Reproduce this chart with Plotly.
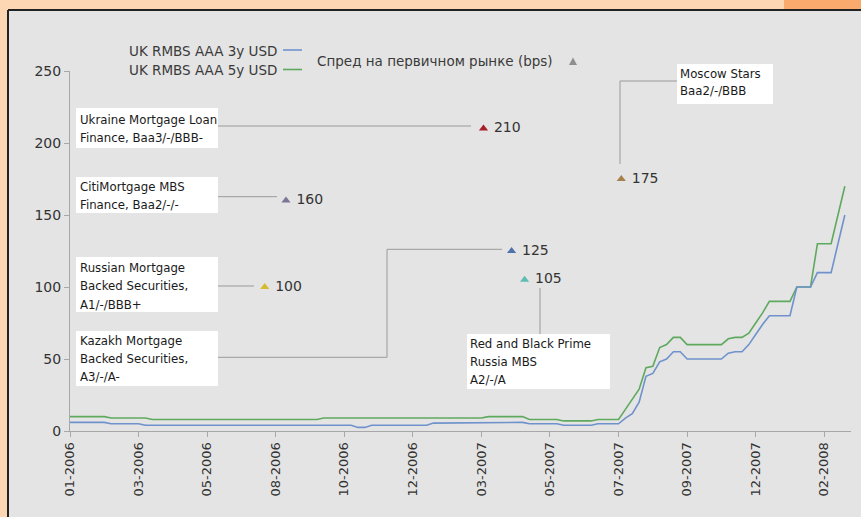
import plotly.graph_objects as go

# ---------------- data ----------------
tick_pos = [0, 10, 20, 30, 40, 50, 60, 70, 80, 90, 100, 110]
tick_labels = ["01-2006", "03-2006", "05-2006", "08-2006", "10-2006", "12-2006",
               "03-2007", "05-2007", "07-2007", "09-2007", "12-2007", "02-2008"]

# weekly values, UK RMBS AAA 3y USD (blue)
rmbs_3y = ([6] * 6 + [5] * 5 + [4] * 31 + [2.5] * 2 + [4] * 9 + [5.5] * 8 + [6] * 6 +
           [5] * 5 + [4] * 5 + [5] * 4 +
           [9, 12, 20, 38, 40, 48, 50, 55, 55, 50, 50, 50, 50, 50, 50, 54, 55, 55,
            60, 67, 74, 80, 80, 80, 80, 100, 100, 100, 110, 110, 110, 130, 150])
# weekly values, UK RMBS AAA 5y USD (green)
rmbs_5y = ([10] * 6 + [9] * 6 + [8] * 25 + [9] * 24 + [10] * 6 + [8] * 5 + [7] * 5 + [8] * 4 +
           [15, 22, 29, 44, 45, 58, 60, 65, 65, 60, 60, 60, 60, 60, 60, 64, 65, 65,
            68, 75, 82, 90, 90, 90, 90, 100, 100, 100, 130, 130, 130, 150, 170])
weeks = list(range(len(rmbs_3y)))

# primary market spreads (bps)
deal_names = ["Ukraine Mortgage Loan", "Moscow Stars", "CitiMortgage MBS",
              "Russian Mortgage Backed Securities", "Kazakh Mortgage Backed Securities",
              "Red and Black Prime Russia MBS"]
deal_week = [60.3, 80.4, 31.5, 28.4, 64.4, 66.3]
deal_bps = [210, 175, 160, 100, 125, 105]
deal_colors = ["#a61e2a", "#a8804a", "#7d7498", "#d6bb2c", "#4f72ad", "#5fbcb2"]

# callout texts
callouts = [
    (["Ukraine Mortgage Loan", "Finance, Baa3/-/BBB-"], 76, 108, 218, 148, 79, [120, 137.5]),
    (["CitiMortgage MBS", "Finance, Baa2/-/-"], 76, 177, 218, 213, 79, [186.7, 204.5]),
    (["Russian Mortgage", "Backed Securities,", "A1/-/BBB+"], 76, 257, 218, 312, 79, [267.5, 286, 304.5]),
    (["Kazakh Mortgage", "Backed Securities,", "A3/-/A-"], 76, 331, 218, 386, 79, [340.7, 358.7, 376.7]),
    (["Red and Black Prime", "Russia MBS", "A2/-/A"], 467, 334, 610, 389, 469, [344.3, 362, 380.3]),
    (["Moscow Stars", "Baa2/-/BBB"], 677, 64, 773, 104, 679, [73.7, 91.3]),
]

# ---------------- geometry helpers (pixel -> paper) ----------------
W, H = 861, 517
ML, MR, MT, MB = 70, 10, 71, 86
PW, PH = W - ML - MR, H - MT - MB


def fx(x):
    return (x - ML) / PW


def fy(y):
    return (H - MB - y) / PH


FONT = "DejaVu Sans"
fig = go.Figure()

fig.add_trace(go.Scatter(x=weeks, y=rmbs_5y, mode="lines", name="UK RMBS AAA 5y USD",
                         line=dict(color="#5fa95f", width=1.6)))
fig.add_trace(go.Scatter(x=weeks, y=rmbs_3y, mode="lines", name="UK RMBS AAA 3y USD",
                         line=dict(color="#6f92cc", width=1.6)))
fig.add_trace(go.Scatter(x=deal_week, y=deal_bps, mode="markers+text",
                         name="Спред на первичном рынке (bps)",
                         marker=dict(symbol="triangle-up", size=8, color=deal_colors),
                         text=[" " + str(v) for v in deal_bps], textposition="middle right",
                         textfont=dict(family=FONT, size=14, color="#333333"),
                         hovertext=deal_names))

shapes = []
# background panel
shapes.append(dict(type="rect", xref="paper", yref="paper", x0=fx(8), x1=fx(W + 2),
                   y0=fy(H + 2), y1=fy(10), fillcolor="#e4e4e4", line=dict(width=0), layer="below"))
shapes.append(dict(type="rect", xref="paper", yref="paper", x0=fx(784), x1=fx(W + 2),
                   y0=fy(9), y1=fy(-2), fillcolor="#f9aa6c", line=dict(width=0), layer="below"))
shapes.append(dict(type="line", xref="paper", yref="paper", x0=fx(8), x1=fx(W + 2),
                   y0=fy(10), y1=fy(10), line=dict(color="#222222", width=2)))
shapes.append(dict(type="line", xref="paper", yref="paper", x0=fx(8), x1=fx(8),
                   y0=fy(10), y1=fy(H + 2), line=dict(color="#222222", width=2)))

# connectors
conn = dict(color="#9a9a9a", width=1)
for pts in [[(218, 126), (471, 126)],
            [(218, 196.7), (277, 196.7)],
            [(218, 286), (254, 286)],
            [(218, 357.3), (387, 357.3), (387, 249.3), (502, 249.3)],
            [(540, 288), (540, 334)],
            [(679, 81), (620, 81), (620, 164)]]:
    path = "M " + " L ".join(f"{fx(a):.5f},{fy(b):.5f}" for a, b in pts)
    shapes.append(dict(type="path", xref="paper", yref="paper", path=path, line=conn))

# callout boxes
annotations = []
for lines, x0, y0, x1, y1, tx, ys in callouts:
    shapes.append(dict(type="rect", xref="paper", yref="paper", x0=fx(x0), x1=fx(x1),
                       y0=fy(y1), y1=fy(y0), fillcolor="white", line=dict(width=0)))
    for t, yy in zip(lines, ys):
        annotations.append(dict(xref="paper", yref="paper", x=fx(tx - 1), y=fy(yy), text=t,
                                showarrow=False, xanchor="left", yanchor="middle",
                                font=dict(family=FONT, size=11.75, color="#1a1a1a")))

# legend (manual)
shapes.append(dict(type="line", xref="paper", yref="paper", x0=fx(283), x1=fx(302),
                   y0=fy(50), y1=fy(50), line=dict(color="#6f92cc", width=1.6)))
shapes.append(dict(type="line", xref="paper", yref="paper", x0=fx(283), x1=fx(302),
                   y0=fy(69.5), y1=fy(69.5), line=dict(color="#5fa95f", width=1.6)))
tri = [(569, 65), (577, 65), (573, 57.5)]
shapes.append(dict(type="path", xref="paper", yref="paper",
                   path="M " + " L ".join(f"{fx(a):.5f},{fy(b):.5f}" for a, b in tri) + " Z",
                   fillcolor="#8e8e8e", line=dict(width=0)))
for t, x, y, anc in [("UK RMBS AAA 3y USD", 279, 51, "right"),
                     ("UK RMBS AAA 5y USD", 279, 70, "right"),
                     ("Спред на первичном рынке (bps)", 315, 61, "left")]:
    annotations.append(dict(xref="paper", yref="paper", x=fx(x), y=fy(y), text=t,
                            showarrow=False, xanchor=anc, yanchor="middle",
                            font=dict(family=FONT, size=13.5, color="#3a3a3a")))

fig.update_layout(
    width=W, height=H,
    margin=dict(l=ML, r=MR, t=MT, b=MB),
    paper_bgcolor="#fdd6b4",
    plot_bgcolor="rgba(0,0,0,0)",
    showlegend=False,
    shapes=shapes,
    annotations=annotations,
    font=dict(family=FONT, color="#333333"),
    xaxis=dict(range=[0, 113.9], tickmode="array", tickvals=tick_pos, ticktext=tick_labels,
               tickangle=-90, showgrid=False, zeroline=False, showline=True,
               linecolor="#a8a8a8", linewidth=1, ticks="outside", ticklen=5,
               tickcolor="#a8a8a8", tickfont=dict(family=FONT, size=13, color="#333333")),
    yaxis=dict(range=[0, 250], tickmode="array", tickvals=[0, 50, 100, 150, 200, 250],
               showgrid=False, zeroline=False, showline=True, linecolor="#a8a8a8",
               linewidth=1, ticks="outside", ticklen=5, tickcolor="#a8a8a8",
               tickfont=dict(family=FONT, size=14, color="#333333")),
)

fig.write_html("out.html", config={"displayModeBar": False},
               post_script="document.body.style.margin='0';document.body.style.overflow='hidden';")
